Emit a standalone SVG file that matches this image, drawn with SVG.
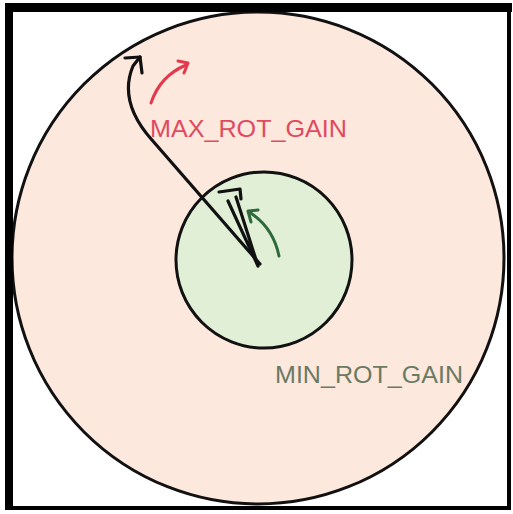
<svg xmlns="http://www.w3.org/2000/svg" width="513" height="514" viewBox="0 0 513 514">
<style>
.circ{stroke:#111;stroke-width:3}
.arr{fill:none;stroke:#111;stroke-width:3.2;stroke-linecap:round;stroke-linejoin:round}
.lbl{font-family:"Liberation Sans",Arial,sans-serif;font-size:24px}
</style>
<rect x="0" y="0" width="513" height="514" fill="#ffffff"/>
<g id="outer-circle">
<circle class="circ" cx="258" cy="258" r="246" fill="#fde8de"/>
</g>
<g id="inner-circle">
<circle class="circ" cx="264" cy="260" r="88" fill="#e0efd6"/>
</g>
<g id="connectors">
<path class="arr" d="M 260 264 L 152 140 Q 118 102 133 66 L 140 57"/>
<path class="arr" d="M 125 58 L 140 57 L 142 73"/>
<path class="arr" d="M 258 266 L 228 201 M 258 266 L 236 197"/>
<path class="arr" d="M 219 192 L 240 189 L 241 199"/>
<path fill="none" stroke="#e23a4c" stroke-width="3" stroke-linecap="round" d="M 151 103 Q 160 76 186 65"/>
<path fill="none" stroke="#e23a4c" stroke-width="3" stroke-linecap="round" stroke-linejoin="round" d="M 178 61 L 188 63 L 184 73"/>
<path fill="none" stroke="#2f6a3a" stroke-width="3" stroke-linecap="round" d="M 279 256 Q 273 227 249 212"/>
<path fill="none" stroke="#2f6a3a" stroke-width="3" stroke-linecap="round" stroke-linejoin="round" d="M 258 210 L 248 211 L 251 222"/>
</g>
<g id="label-max">
<text class="lbl" x="150" y="137" fill="#e04a5e" textLength="197" lengthAdjust="spacingAndGlyphs">MAX_ROT_GAIN</text>
</g>
<g id="label-min">
<text class="lbl" x="275" y="383" fill="#6b7a62" textLength="188" lengthAdjust="spacingAndGlyphs">MIN_ROT_GAIN</text>
</g>
<g id="frame">
<rect x="5" y="3" width="8" height="507" fill="#000"/>
<rect x="5" y="3" width="507" height="9" fill="#000"/>
<rect x="507" y="3" width="4" height="507" fill="#000"/>
<rect x="5" y="506" width="506" height="4" fill="#000"/>
</g>
</svg>
